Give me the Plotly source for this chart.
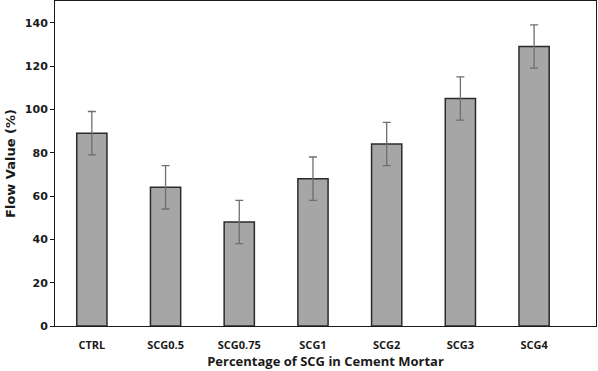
import plotly.graph_objects as go

categories = ["CTRL", "SCG0.5", "SCG0.75", "SCG1", "SCG2", "SCG3", "SCG4"]
flow_values = [89, 64, 48, 68, 84, 105, 129]
flow_errors = [10, 10, 10, 10, 10, 10, 10]
y_ticks = [0, 20, 40, 60, 80, 100, 120, 140]

fig = go.Figure()
fig.add_trace(go.Bar(
    x=list(range(len(categories))),
    y=flow_values,
    width=0.41,
    marker=dict(color="#a6a6a6", line=dict(color="#2b2b2b", width=1.5)),
    error_y=dict(type="data", array=flow_errors, visible=True,
                 color="#6e6e6e", thickness=1.3, width=4),
))

fig.update_layout(
    width=598, height=371,
    margin=dict(l=55, r=2, t=1, b=45),
    paper_bgcolor="white", plot_bgcolor="white",
    showlegend=False,
    font=dict(family="DejaVu Sans", color="#1a1a1a"),
)
fig.update_xaxes(
    range=[-0.5, 6.84],
    tickmode="array",
    tickvals=list(range(len(categories))),
    ticktext=[f"<b>{c}</b>" for c in categories],
    tickfont=dict(family="Open Sans", size=11, color="#1a1a1a"),
    ticklabelstandoff=9,
    showline=True, linecolor="#1a1a1a", linewidth=1, mirror=True,
    ticks="", showgrid=False,
    title=dict(text="<b>Percentage of SCG in Cement Mortar</b>",
               font=dict(family="Open Sans", size=13, color="#1a1a1a"), standoff=3),
)
fig.update_yaxes(
    range=[0, 150],
    tickmode="array",
    tickvals=y_ticks,
    ticktext=[f"<b>{t}</b>" for t in y_ticks],
    tickfont=dict(family="DejaVu Sans", size=11, color="#1a1a1a"),
    showline=True, linecolor="#1a1a1a", linewidth=1, mirror=True,
    ticks="outside", ticklen=4, tickcolor="#1a1a1a",
    showgrid=False, zeroline=False,
    title=dict(text="<b>Flow Value (%)</b>",
               font=dict(family="DejaVu Sans", size=13, color="#1a1a1a"), standoff=6),
)

fig.write_html("out.html", config={"displayModeBar": False},
               post_script="document.body.style.margin='0';")
